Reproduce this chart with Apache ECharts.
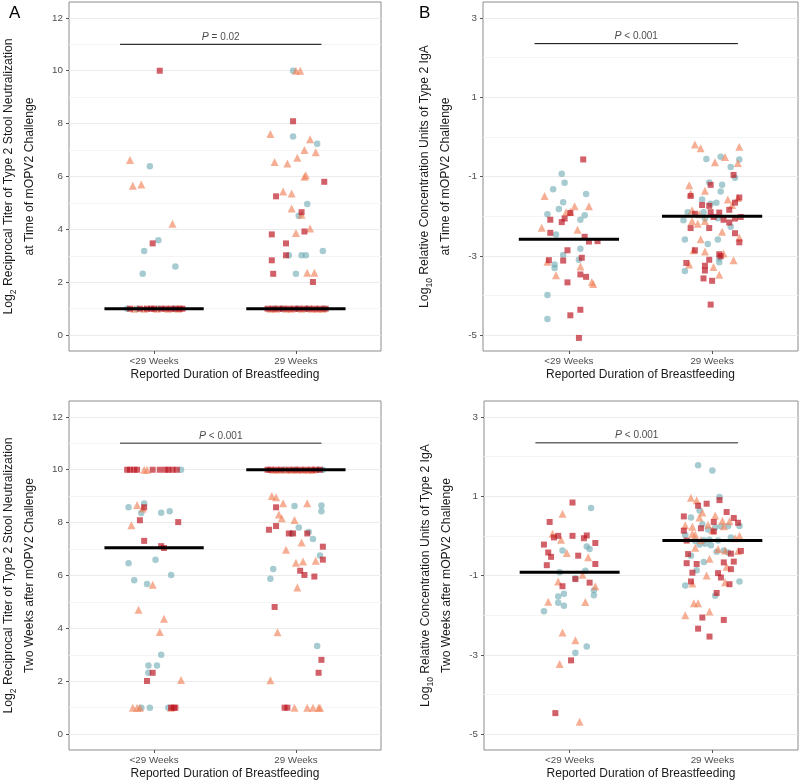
<!DOCTYPE html>
<html><head><meta charset="utf-8">
<script src="https://cdn.jsdelivr.net/npm/echarts@6/dist/echarts.min.js"></script>
<style>html,body{margin:0;padding:0;background:#fff}#c{width:800px;height:782px}</style>
</head><body><div id="c"></div>
<script>
const categories = ['<29 Weeks', '29 Weeks'];
const xAxisTitle = 'Reported Duration of Breastfeeding';

// Panel A: Log2 stool neutralization at challenge  [jittered group position, value]
const A_circle = [[0.97,6.39],[1.03,3.59],[0.93,3.18],[0.92,2.32],[1.15,2.60],[0.81,1],[0.88,1],[1.03,1],[1.14,1],
  [1.98,10],[1.98,7.51],[2.15,7.24],[2.08,4.96],[2.02,4.52],[1.95,3.02],[2.04,3.02],[2.07,3.02],[2.19,3.18],[2.0,2.32],[1.85,1],[1.90,1],[2.01,1],[2.08,1],[2.20,1]];
const A_triangle = [[0.83,6.62],[0.85,5.65],[0.91,5.70],[1.13,4.21],[0.86,1],[0.93,1],[1.02,1],[1.10,1],[1.17,1],
  [2.0,10],[2.03,10],[1.82,7.61],[2.10,7.41],[2.06,7.0],[2.14,6.92],[2.01,6.71],[1.85,6.55],[1.94,6.49],[2.06,5.99],[2.07,6.05],[1.91,5.43],[1.97,5.36],[1.97,4.79],[2.04,4.55],[2.10,4.03],[2.0,3.86],[2.08,2.36],[2.13,2.36],[1.82,1],[1.86,1],[1.93,1],[1.97,1],[2.04,1],[2.11,1],[2.15,1],[2.19,1]];
const A_square = [[1.04,10],[0.99,3.47],[0.83,1],[0.90,1],[0.95,1],[0.98,1],[1.00,1],[1.05,1],[1.08,1],[1.12,1],[1.15,1],[1.18,1],[1.20,1],
  [1.98,8.09],[2.20,5.80],[1.86,5.25],[2.04,4.65],[2.06,3.92],[1.83,3.81],[1.93,3.47],[1.93,3.02],[1.83,2.83],[1.84,2.32],[2.12,2.01],[1.80,1],[1.84,1],[1.88,1],[1.91,1],[1.95,1],[1.99,1],[2.02,1],[2.06,1],[2.09,1],[2.13,1],[2.17,1],[2.21,1]];

// Panel B: Log10 IgA at challenge
const B_circle = [[0.95,-0.93],[0.97,-1.16],[0.89,-1.32],[1.12,-1.44],[0.96,-1.65],[0.93,-1.82],[0.85,-1.95],[1.11,-1.98],[1.08,-2.09],[0.91,-2.46],[1.08,-2.82],[0.96,-2.98],[1.07,-3.10],[0.90,-3.22],[0.90,-3.31],[0.85,-3.99],[0.85,-4.59],
  [2.06,-0.50],[1.96,-0.56],[2.19,-0.57],[2.13,-0.76],[2.16,-1.03],[1.98,-1.15],[2.07,-1.21],[2.06,-1.38],[1.93,-1.58],[2.03,-1.66],[1.99,-1.69],[1.83,-1.90],[1.94,-1.90],[1.80,-2.10],[1.95,-2.06],[2.04,-2.05],[2.13,-2.27],[1.81,-2.59],[2.04,-2.59],[1.97,-2.70],[2.05,-3.06],[2.05,-3.16],[1.81,-3.38]];
const B_triangle = [[0.83,-1.49],[1.04,-1.75],[1.14,-1.75],[0.98,-1.90],[1.01,-1.89],[0.81,-2.29],[1.06,-2.34],[0.85,-3.15],[1.08,-3.27],[0.91,-3.49],[1.16,-3.66],[1.17,-3.71],
  [1.88,-0.19],[1.92,-0.29],[2.19,-0.25],[2.09,-0.51],[2.02,-0.64],[2.18,-0.66],[1.84,-1.22],[1.95,-1.36],[1.85,-1.43],[2.11,-1.58],[2.18,-1.54],[2.14,-1.72],[1.86,-1.85],[1.91,-1.95],[1.86,-2.12],[1.95,-2.12],[1.90,-2.19],[2.07,-2.39],[2.19,-2.54],[1.92,-2.58],[1.87,-2.86],[1.95,-2.89],[2.08,-2.94],[2.15,-3.11],[1.84,-3.22],[2.01,-3.28],[2.05,-3.48]];
const B_square = [[1.10,-0.57],[1.01,-1.92],[0.87,-2.09],[0.97,-2.06],[0.95,-2.15],[0.87,-2.42],[1.11,-2.52],[1.14,-2.64],[1.20,-2.63],[0.99,-2.86],[0.86,-3.11],[0.96,-3.12],[1.09,-3.05],[1.08,-3.47],[1.12,-3.53],[0.99,-3.67],[1.08,-4.36],[1.01,-4.50],[1.07,-5.07],
  [2.15,-0.96],[1.99,-1.21],[1.85,-1.49],[2.19,-1.53],[2.16,-1.66],[1.93,-1.72],[1.98,-1.74],[2.12,-1.84],[2.05,-1.91],[1.99,-1.90],[1.88,-1.94],[2.01,-2.02],[2.08,-2.09],[2.20,-2.02],[2.12,-2.16],[2.16,-2.06],[1.85,-2.30],[1.98,-2.30],[2.16,-2.43],[2.19,-2.66],[1.88,-2.86],[2.05,-2.96],[2.06,-3.01],[1.98,-3.10],[1.82,-3.18],[1.95,-3.25],[1.95,-3.37],[1.94,-3.57],[2.0,-3.63],[1.99,-4.23]];

// Panel C: Log2 stool neutralization two weeks after challenge
const C_circle = [[1.19,10],[0.82,8.58],[0.93,8.72],[0.91,8.36],[1.05,8.37],[1.11,8.43],[0.82,6.46],[1.01,6.60],[1.12,6.02],[0.86,5.82],[0.95,5.68],[1.05,3.0],[0.96,2.60],[1.02,2.60],[0.96,2.32],[0.91,1],[0.97,1],[1.10,1],
  [1.92,10],[2.0,10],[2.16,10],[2.19,10],[1.99,8.63],[2.18,8.65],[2.18,8.43],[2.02,7.82],[1.97,7.59],[2.09,7.65],[2.12,7.38],[2.17,6.76],[1.84,6.25],[1.82,5.88],[2.15,3.33]];
const C_triangle = [[0.93,10],[0.95,10],[0.88,8.67],[0.92,8.53],[0.84,7.90],[0.99,5.65],[0.89,4.70],[1.07,4.36],[1.04,3.86],[1.19,2.05],[0.85,1],[0.88,1],[0.90,1],[1.12,1],
  [1.84,10],[1.88,10],[1.93,10],[1.97,10],[2.01,10],[2.05,10],[2.09,10],[2.12,10],[1.83,9.01],[1.86,8.96],[1.91,8.73],[2.08,8.73],[1.88,8.31],[1.90,8.17],[1.99,8.10],[2.04,7.25],[1.93,6.97],[2.0,6.48],[2.05,6.53],[2.14,6.56],[2.01,5.55],[1.87,3.85],[1.82,2.04],[1.99,1],[2.08,1],[2.12,1],[2.16,1],[2.17,1]];
const C_square = [[0.81,10],[0.83,10],[0.86,10],[0.88,10],[0.99,10],[1.04,10],[1.08,10],[1.10,10],[1.13,10],[1.16,10],[0.93,8.58],[0.90,8.09],[1.17,8.02],[0.93,7.31],[1.05,7.11],[1.07,7.04],[0.99,2.32],[0.95,2.01],[1.12,1],[1.14,1],[1.15,1],
  [1.80,10],[1.82,10],[1.86,10],[1.90,10],[1.95,10],[1.99,10],[2.03,10],[2.07,10],[2.11,10],[2.14,10],[2.17,10],[1.86,8.58],[1.86,7.87],[1.81,7.73],[1.95,7.59],[1.98,7.59],[2.08,7.59],[2.19,7.09],[2.19,6.60],[2.03,6.18],[2.06,6.02],[2.13,5.96],[1.85,4.81],[2.18,2.81],[2.16,2.32],[1.92,1],[1.94,1]];

// Panel D: Log10 IgA two weeks after challenge
const D_circle = [[1.15,0.70],[1.12,-0.27],[1.14,-0.33],[0.95,-0.37],[0.93,-0.92],[1.11,-0.88],[1.04,-1.07],[1.17,-1.37],[0.96,-1.46],[0.92,-1.53],[1.17,-1.50],[0.92,-1.69],[0.96,-1.76],[0.82,-1.90],[1.12,-2.79],[1.04,-2.95],
  [1.90,1.78],[2.0,1.65],[2.05,0.98],[1.91,0.64],[1.85,0.46],[1.93,0.29],[2.06,0.24],[2.11,0.25],[2.19,0.25],[1.97,0.16],[2.02,0.21],[1.81,0.02],[2.13,-0.04],[1.94,-0.11],[1.98,-0.10],[1.88,-0.13],[2.04,-0.12],[1.95,-0.20],[1.91,-0.22],[1.99,-0.24],[2.03,-0.40],[2.11,-0.42],[2.08,-0.37],[1.85,-0.50],[1.94,-0.66],[1.89,-0.87],[2.19,-1.15],[2.02,-1.51],[1.81,-1.25]];
const D_triangle = [[0.95,0.56],[0.88,0.05],[0.94,-0.10],[0.98,-0.43],[1.13,-0.54],[1.09,-0.98],[0.92,-1.15],[1.18,-1.27],[0.85,-1.66],[1.11,-1.67],[0.95,-2.44],[1.04,-2.63],[0.93,-3.23],[1.07,-4.69],
  [1.85,0.96],[1.89,0.90],[1.93,0.59],[1.91,0.46],[2.02,0.51],[2.07,0.38],[2.12,0.37],[1.81,0.27],[1.97,0.28],[1.86,0.23],[2.0,0.14],[2.08,0.24],[1.86,0.05],[1.88,0.03],[2.16,-0.06],[2.19,0.0],[1.92,-0.11],[1.88,-0.30],[2.04,-0.33],[2.09,-0.37],[2.18,-0.38],[1.98,-0.58],[2.10,-0.78],[1.96,-1.0],[1.86,-1.20],[2.09,-1.17],[1.87,-1.70],[1.90,-1.70],[1.98,-1.91],[1.81,-2.0]];
const D_square = [[1.02,0.84],[0.86,0.35],[0.92,0.0],[0.89,-0.04],[1.02,0.0],[1.10,-0.06],[1.12,0.01],[1.18,-0.18],[0.82,-0.22],[0.85,-0.42],[0.87,-0.53],[1.06,-0.50],[1.18,-0.71],[0.84,-0.74],[1.04,-1.09],[1.14,-1.18],[0.95,-1.27],[1.01,-3.14],[0.90,-4.47],
  [2.05,0.90],[1.96,0.81],[1.90,0.76],[2.10,0.60],[1.80,0.49],[2.15,0.45],[2.01,0.35],[2.18,0.33],[1.92,0.19],[1.80,0.13],[2.01,0.11],[1.82,-0.12],[2.20,-0.38],[1.83,-0.46],[2.13,-0.45],[2.08,-0.67],[2.15,-0.65],[1.82,-0.69],[1.89,-0.71],[2.13,-0.84],[1.86,-0.93],[2.04,-0.94],[2.06,-1.05],[1.85,-1.15],[2.12,-1.22],[2.03,-1.44],[1.93,-2.06],[2.08,-2.12],[1.90,-2.34],[1.98,-2.54]];

const medians = { A: [1, 1], B: [-2.58, -2.0], C: [7.05, 10], D: [-0.92, -0.12] };
const pLabels = { A: '= 0.02', B: '< 0.001', C: '< 0.001', D: '< 0.001' };
const bracketY = { A: 11, B: 2.35, C: 11, D: 2.35 };
const bracketX = [0.76, 2.18];

const titerTicks = [0, 2, 4, 6, 8, 10, 12];
const titerMinor = [1, 3, 5, 7, 9, 11];
const igaTicks = [-5, -3, -1, 1, 3];
const igaMinor = [-4, -2, 0, 2];

const FONT = 'Liberation Sans, Arial, sans-serif';

const panels = [
  { key: 'A', grid: { left: 69, top: 2, width: 312, height: 349 }, range: [-0.6, 12.6], major: titerTicks, minor: titerMinor, nameGap: 29,
    name: '{t|Log}{s|2}{t| Reciprocal Titer of Type 2 Stool Neutralization}\n{t|at Time of mOPV2 Challenge}', pts: [A_circle, A_triangle, A_square], bracketColor: '#000', bracketW: 1 },
  { key: 'B', grid: { left: 483, top: 2, width: 315, height: 349 }, range: [-5.4, 3.4], major: igaTicks, minor: igaMinor, nameGap: 27,
    name: '{t|Log}{s|10}{t| Relative Concentration Units of Type 2 IgA}\n{t|at Time of mOPV2 Challenge}', pts: [B_circle, B_triangle, B_square], bracketColor: '#000', bracketW: 1 },
  { key: 'C', grid: { left: 69, top: 401, width: 312, height: 349 }, range: [-0.6, 12.6], major: titerTicks, minor: titerMinor, nameGap: 29,
    name: '{t|Log}{s|2}{t| Reciprocal Titer of Type 2 Stool Neutralization}\n{t|Two Weeks after mOPV2 Challenge}', pts: [C_circle, C_triangle, C_square], bracketColor: '#6b6b6b', bracketW: 1.5 },
  { key: 'D', grid: { left: 484, top: 401, width: 314, height: 349 }, range: [-5.4, 3.4], major: igaTicks, minor: igaMinor, nameGap: 27,
    name: '{t|Log}{s|10}{t| Relative Concentration Units of Type 2 IgA}\n{t|Two Weeks after mOPV2 Challenge}', pts: [D_circle, D_triangle, D_square], bracketColor: '#6b6b6b', bracketW: 1.5 }
];

const shapeStyles = [
  { symbol: 'circle', size: 6.5, color: '#6aa8b0', opacity: 0.6 },
  { symbol: 'triangle', size: 8, color: '#f17e54', opacity: 0.62 },
  { symbol: 'rect', size: 6, color: '#bd1420', opacity: 0.68 }
];

const grids = [], xAxes = [], yAxes = [], series = [];
panels.forEach((p, i) => {
  grids.push(Object.assign({ show: true, borderColor: '#8c8c8c', borderWidth: 1, backgroundColor: '#fff', containLabel: false, outerBoundsMode: 'none' }, p.grid));
  xAxes.push({
    gridIndex: i, type: 'value', min: 0.4, max: 2.6,
    axisLine: { show: false, onZero: false }, splitLine: { show: false },
    axisTick: { show: true, customValues: [1, 2], length: 3, lineStyle: { color: '#555' } },
    axisLabel: { customValues: [1, 2], formatter: v => categories[Math.round(v) - 1], color: '#4d4d4d', fontSize: 9.8, margin: 5, fontFamily: FONT },
    name: xAxisTitle, nameLocation: 'middle', nameGap: 18,
    nameTextStyle: { fontSize: 12, color: '#1a1a1a', fontFamily: FONT }
  });
  yAxes.push({
    gridIndex: i, type: 'value', min: p.range[0], max: p.range[1],
    axisLine: { show: false, onZero: false },
    axisTick: { show: true, customValues: p.major, length: 3, lineStyle: { color: '#555' } },
    axisLabel: { customValues: p.major, color: '#4d4d4d', fontSize: 9.8, margin: 6, fontFamily: FONT },
    splitLine: { show: true, lineStyle: { color: '#ebebeb', width: 1 } },
    name: p.name, nameLocation: 'middle', nameRotate: 90, nameGap: p.nameGap,
    nameTextStyle: {
      fontFamily: FONT, color: '#1a1a1a', fontSize: 12.2, lineHeight: 21,
      rich: {
        t: { fontSize: 12.2, fontFamily: FONT, color: '#1a1a1a', lineHeight: 21 },
        s: { fontSize: 8.5, fontFamily: FONT, color: '#1a1a1a', lineHeight: 21, verticalAlign: 'bottom', padding: [0, 0, 1, 0] }
      }
    }
  });
  yAxes.push({
    gridIndex: i, type: 'value', min: p.range[0], max: p.range[1], position: 'left',
    axisLine: { show: false, onZero: false }, axisLabel: { show: false },
    axisTick: { show: false, customValues: p.minor },
    splitLine: { show: true, lineStyle: { color: '#f4f4f4', width: 1 } }
  });
  const yi = i * 2;
  p.pts.forEach((arr, k) => {
    const st = shapeStyles[k];
    series.push({
      type: 'scatter', xAxisIndex: i, yAxisIndex: yi, data: arr, symbol: st.symbol, symbolSize: st.size,
      itemStyle: { color: st.color, opacity: st.opacity }, z: 3, silent: true
    });
  });
  medians[p.key].forEach((m, g) => {
    series.push({
      type: 'line', xAxisIndex: i, yAxisIndex: yi, data: [[g + 1 - 0.35, m], [g + 1 + 0.35, m]],
      showSymbol: false, symbol: 'none', lineStyle: { color: '#000', width: 3 }, z: 5, silent: true
    });
  });
  series.push({
    type: 'line', xAxisIndex: i, yAxisIndex: yi, data: bracketX.map(x => [x, bracketY[p.key]]),
    showSymbol: false, symbol: 'none', lineStyle: { color: p.bracketColor, width: p.bracketW }, z: 5, silent: true
  });
  series.push({
    type: 'scatter', xAxisIndex: i, yAxisIndex: yi, data: [[(bracketX[0] + bracketX[1]) / 2, bracketY[p.key]]],
    symbolSize: 0, silent: true, z: 6,
    label: {
      show: true, position: 'top', distance: 2,
      formatter: '{i|P} ' + pLabels[p.key],
      fontSize: 10, color: '#1a1a1a', fontFamily: FONT,
      rich: { i: { fontStyle: 'italic', fontSize: 10.5, color: '#1a1a1a', fontFamily: FONT } }
    }
  });
});

const chart = echarts.init(document.getElementById('c'), null, { renderer: 'canvas' });
chart.setOption({
  animation: false,
  backgroundColor: '#fff',
  textStyle: { fontFamily: FONT },
  grid: grids, xAxis: xAxes, yAxis: yAxes, series: series,
  graphic: [
    { type: 'text', left: 9, top: 5, style: { text: 'A', fontSize: 17, fontFamily: FONT, fill: '#000' } },
    { type: 'text', left: 419, top: 5, style: { text: 'B', fontSize: 17, fontFamily: FONT, fill: '#000' } }
  ]
});
</script></body></html>
